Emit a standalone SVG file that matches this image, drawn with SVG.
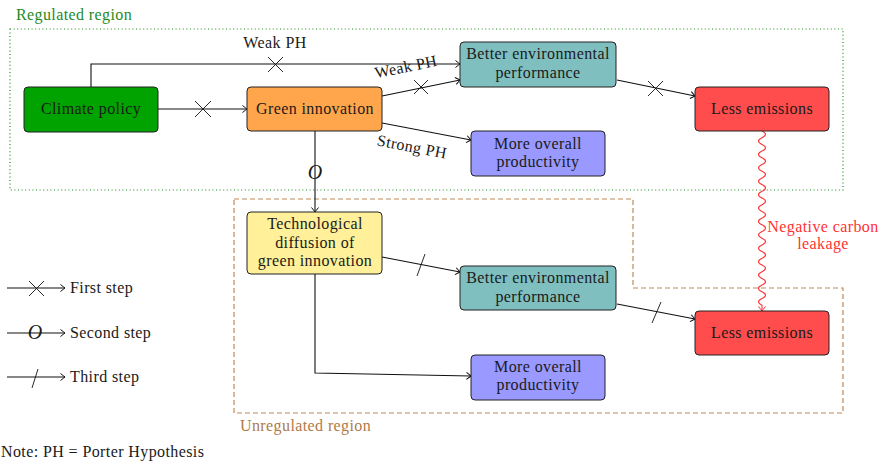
<svg xmlns="http://www.w3.org/2000/svg" width="882" height="462" viewBox="0 0 882 462" font-family="'Liberation Serif', 'Times New Roman', serif">
  <defs>
    <style>
      text { font-family: 'Liberation Serif', 'Times New Roman', serif; font-size: 16px; letter-spacing: 0.4px; fill: #1a1a1a; }
      .mid { text-anchor: middle; }
      .node rect { stroke: #222; stroke-width: 1; }
      .edge { fill: none; stroke: #111; stroke-width: 1.1; }
      .tick { fill: none; stroke: #111; stroke-width: 0.9; }
      .leak { fill: none; stroke: #ff3333; stroke-width: 1.1; }
      .leak-text { fill: #ff3333; }
      .region-label-green { fill: #1f8a1f; }
      .region-label-brown { fill: #b07a48; }
      .ostep { font-style: italic; font-size: 20px; letter-spacing: 0; }
    </style>
    <marker id="arr" viewBox="-6 -5 8 10" markerWidth="8" markerHeight="10" refX="0" refY="0" orient="auto" markerUnits="userSpaceOnUse">
      <path d="M-4.5,-3.5 Q-1.2,-0.9 0,0 Q-1.2,0.9 -4.5,3.5" fill="none" stroke="#111" stroke-width="1"/>
    </marker>
    <marker id="arr-red" viewBox="-6 -5 8 10" markerWidth="8" markerHeight="10" refX="0" refY="0" orient="auto" markerUnits="userSpaceOnUse">
      <path d="M-4.5,-3.5 Q-1.2,-0.9 0,0 Q-1.2,0.9 -4.5,3.5" fill="none" stroke="#ff3333" stroke-width="1"/>
    </marker>
  </defs>

  <rect width="882" height="462" fill="#ffffff"/>

  <!-- regions -->
  <g id="regulated-region">
    <rect x="10" y="29" width="833" height="161" fill="none" stroke="#1f8a1f" stroke-width="1.2" stroke-dasharray="1 2.6"/>
    <text x="16" y="20" class="region-label-green">Regulated region</text>
  </g>
  <g id="unregulated-region">
    <path d="M234,199 H633 V288 H843 V413 H234 Z" fill="none" stroke="#bf8a58" stroke-width="1.2" stroke-dasharray="5 3"/>
    <text x="240" y="431" class="region-label-brown">Unregulated region</text>
  </g>

  <!-- connectors -->
  <g id="connectors">
    <!-- climate policy to better environmental performance (weak PH) -->
    <path class="edge" d="M91,87 V64 H460" marker-end="url(#arr)"/>
    <path class="tick" d="M268,57 L283,72 M268,72 L283,57"/>
    <text x="275" y="48" class="mid">Weak PH</text>

    <!-- climate policy to green innovation -->
    <path class="edge" d="M158,109 H247" marker-end="url(#arr)"/>
    <path class="tick" d="M195,101 L211,117 M195,117 L211,101"/>

    <!-- green innovation to better environmental performance -->
    <path class="edge" d="M382,96 L460,80" marker-end="url(#arr)"/>
    <path class="tick" d="M414,80 L428,94 M414,94 L428,80"/>
    <text x="0" y="0" class="mid" transform="translate(407,72) rotate(-11.6)">Weak PH</text>

    <!-- green innovation to more overall productivity -->
    <path class="edge" d="M382,123 L471,140" marker-end="url(#arr)"/>
    <text x="0" y="0" class="mid" transform="translate(411,152) rotate(10.8)">Strong PH</text>

    <!-- better environmental performance to less emissions -->
    <path class="edge" d="M617,80 L695,96" marker-end="url(#arr)"/>
    <path class="tick" d="M648,81 L663,96 M648,96 L663,81"/>

    <!-- green innovation to technological diffusion -->
    <path class="edge" d="M315,131 V212" marker-end="url(#arr)"/>
    <text x="315" y="179" class="ostep mid">O</text>

    <!-- technological diffusion to better environmental performance -->
    <path class="edge" d="M382,257 L460,272" marker-end="url(#arr)"/>
    <path class="tick" d="M417,276 L425,254"/>

    <!-- technological diffusion to more overall productivity -->
    <path class="edge" d="M315,274 V373 L471,376" marker-end="url(#arr)"/>

    <!-- better environmental performance to less emissions -->
    <path class="edge" d="M617,304 L695,319" marker-end="url(#arr)"/>
    <path class="tick" d="M652,323 L661,302"/>

    <!-- negative carbon leakage (snake) -->
    <path class="leak" marker-end="url(#arr-red)"
      d="M762,131 q7,3.35 0,6.7 t0,6.7 t0,6.7 t0,6.7 t0,6.7 t0,6.7 t0,6.7 t0,6.7 t0,6.7 t0,6.7 t0,6.7 t0,6.7 t0,6.7 t0,6.7 t0,6.7 t0,6.7 t0,6.7 t0,6.7 t0,6.7 t0,6.7 t0,6.7 t0,6.7 t0,6.7 t0,6.7 t0,6.7 t0,6.7 V311"/>
    <text x="823" y="232" class="mid leak-text">Negative carbon</text>
    <text x="823" y="249" class="mid leak-text">leakage</text>
  </g>

  <!-- nodes -->
  <g id="climate-policy" class="node">
    <rect x="24" y="87" width="134" height="45" rx="4" fill="#00a300"/>
    <text x="91" y="114" class="mid">Climate policy</text>
  </g>
  <g id="green-innovation" class="node">
    <rect x="247" y="87" width="135" height="44" rx="4" fill="#ffa64d"/>
    <text x="315" y="114" class="mid">Green innovation</text>
  </g>
  <g id="better-env-regulated" class="node">
    <rect x="460" y="42" width="156" height="45" rx="4" fill="#80bfbf"/>
    <text x="538" y="59" class="mid">Better environmental</text>
    <text x="538" y="78" class="mid">performance</text>
  </g>
  <g id="less-emissions-regulated" class="node">
    <rect x="695" y="87" width="134" height="44" rx="4" fill="#ff4d4d"/>
    <text x="762" y="114" class="mid">Less emissions</text>
  </g>
  <g id="productivity-regulated" class="node">
    <rect x="471" y="131" width="134" height="45" rx="4" fill="#9999ff"/>
    <text x="538" y="149" class="mid">More overall</text>
    <text x="538" y="167" class="mid">productivity</text>
  </g>
  <g id="tech-diffusion" class="node">
    <rect x="247" y="212" width="135" height="62" rx="4" fill="#fff099"/>
    <text x="315" y="229" class="mid">Technological</text>
    <text x="315" y="248" class="mid">diffusion of</text>
    <text x="315" y="266" class="mid">green innovation</text>
  </g>
  <g id="better-env-unregulated" class="node">
    <rect x="460" y="266" width="156" height="44" rx="4" fill="#80bfbf"/>
    <text x="538" y="283" class="mid">Better environmental</text>
    <text x="538" y="302" class="mid">performance</text>
  </g>
  <g id="less-emissions-unregulated" class="node">
    <rect x="695" y="311" width="134" height="44" rx="4" fill="#ff4d4d"/>
    <text x="762" y="338" class="mid">Less emissions</text>
  </g>
  <g id="productivity-unregulated" class="node">
    <rect x="471" y="355" width="134" height="45" rx="4" fill="#9999ff"/>
    <text x="538" y="372" class="mid">More overall</text>
    <text x="538" y="390" class="mid">productivity</text>
  </g>

  <!-- legend -->
  <g id="legend">
    <path class="edge" d="M7,288 H65" marker-end="url(#arr)"/>
    <path class="tick" d="M29,281 L44,296 M29,296 L44,281"/>
    <text x="70" y="293">First step</text>

    <path class="edge" d="M7,333 H65" marker-end="url(#arr)"/>
    <text x="35" y="339" class="ostep mid">O</text>
    <text x="70" y="338">Second step</text>

    <path class="edge" d="M7,377 H65" marker-end="url(#arr)"/>
    <path class="tick" d="M32,388 L38,369"/>
    <text x="70" y="382">Third step</text>

    <text x="1" y="457">Note: PH = Porter Hypothesis</text>
  </g>
</svg>
